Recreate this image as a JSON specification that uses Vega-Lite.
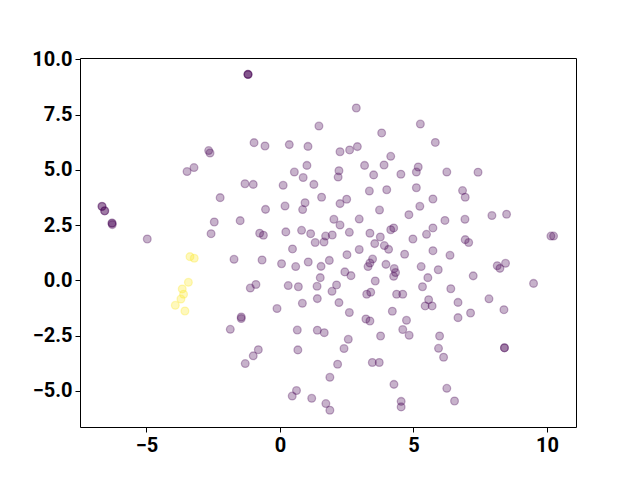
{
  "$schema": "https://vega.github.io/schema/vega-lite/v6.json",
  "width": 496,
  "height": 369,
  "autosize": {"type": "none"},
  "padding": {"left": 80, "top": 58, "right": 64, "bottom": 53},
  "background": "white",
  "config": {
    "view": {"stroke": "#000000", "strokeWidth": 1},
    "axis": {
      "grid": false,
      "domain": false,
      "ticks": true,
      "tickColor": "#000000",
      "tickSize": 5,
      "tickWidth": 1,
      "labelFont": "Roboto",
      "labelFontWeight": "bold",
      "labelFontSize": 20,
      "labelColor": "#000000",
      "labelPadding": 3,
      "title": null
    }
  },
  "data": {
    "values": [
      {"x": -1.2, "y": 9.32, "g": 0}, {"x": -1.2, "y": 9.32, "g": 0}, {"x": -1.19, "y": 9.31, "g": 0},
      {"x": -2.67, "y": 5.87, "g": 0}, {"x": -2.62, "y": 5.76, "g": 0},
      {"x": -3.48, "y": 4.92, "g": 0}, {"x": -3.22, "y": 5.1, "g": 0},
      {"x": -1.31, "y": 4.37, "g": 0}, {"x": -0.97, "y": 6.23, "g": 0}, {"x": -0.56, "y": 6.08, "g": 0},
      {"x": 2.86, "y": 7.8, "g": 0}, {"x": 1.46, "y": 6.98, "g": 0}, {"x": 0.35, "y": 6.14, "g": 0},
      {"x": 1.05, "y": 6.06, "g": 0}, {"x": 3.81, "y": 6.67, "g": 0}, {"x": 2.25, "y": 5.82, "g": 0},
      {"x": 2.61, "y": 5.9, "g": 0}, {"x": 2.9, "y": 6.05, "g": 0}, {"x": 4.15, "y": 5.61, "g": 0},
      {"x": 1.01, "y": 5.2, "g": 0}, {"x": 0.54, "y": 4.9, "g": 0}, {"x": 0.87, "y": 4.65, "g": 0},
      {"x": 2.21, "y": 4.96, "g": 0}, {"x": 2.18, "y": 4.67, "g": 0}, {"x": 3.17, "y": 5.2, "g": 0},
      {"x": 3.9, "y": 5.22, "g": 0}, {"x": 3.51, "y": 4.77, "g": 0}, {"x": 4.53, "y": 4.8, "g": 0},
      {"x": -1.0, "y": 4.34, "g": 0}, {"x": 0.12, "y": 4.3, "g": 0}, {"x": 1.27, "y": 4.34, "g": 0},
      {"x": 5.26, "y": 7.07, "g": 0}, {"x": 5.82, "y": 6.24, "g": 0}, {"x": 5.18, "y": 5.13, "g": 0},
      {"x": 5.11, "y": 4.9, "g": 0}, {"x": 6.25, "y": 4.9, "g": 0}, {"x": 7.42, "y": 4.89, "g": 0},
      {"x": -6.67, "y": 3.35, "g": 0}, {"x": -6.66, "y": 3.34, "g": 0},
      {"x": -6.57, "y": 3.14, "g": 0}, {"x": -6.56, "y": 3.15, "g": 0},
      {"x": -6.29, "y": 2.59, "g": 0}, {"x": -6.29, "y": 2.58, "g": 0}, {"x": -6.28, "y": 2.52, "g": 0},
      {"x": -4.97, "y": 1.87, "g": 0}, {"x": -2.24, "y": 3.74, "g": 0}, {"x": -2.46, "y": 2.64, "g": 0},
      {"x": -1.49, "y": 2.7, "g": 0}, {"x": -2.58, "y": 2.11, "g": 0}, {"x": -1.72, "y": 0.95, "g": 0},
      {"x": -1.45, "y": -1.66, "g": 0}, {"x": -1.45, "y": -1.73, "g": 0},
      {"x": -1.86, "y": -2.22, "g": 0}, {"x": -1.3, "y": -3.77, "g": 0}, {"x": -0.11, "y": -1.28, "g": 0},
      {"x": 0.84, "y": -1.04, "g": 0}, {"x": 2.21, "y": -1.01, "g": 0}, {"x": 2.6, "y": -1.46, "g": 0},
      {"x": 3.22, "y": -1.75, "g": 0}, {"x": 3.37, "y": -1.84, "g": 0}, {"x": 4.21, "y": -1.4, "g": 0},
      {"x": 4.74, "y": -1.81, "g": 0}, {"x": 4.6, "y": -2.23, "g": 0}, {"x": 4.84, "y": -2.49, "g": 0},
      {"x": 3.77, "y": -2.52, "g": 0}, {"x": 0.65, "y": -2.25, "g": 0}, {"x": 1.4, "y": -2.26, "g": 0},
      {"x": 1.66, "y": -2.37, "g": 0}, {"x": 2.56, "y": -2.67, "g": 0}, {"x": 2.4, "y": -3.09, "g": 0},
      {"x": 0.67, "y": -3.15, "g": 0}, {"x": -0.81, "y": -3.14, "g": 0}, {"x": -1.0, "y": -3.42, "g": 0},
      {"x": 2.16, "y": -3.8, "g": 0}, {"x": 1.87, "y": -4.39, "g": 0}, {"x": 3.46, "y": -3.72, "g": 0},
      {"x": 3.72, "y": -3.72, "g": 0}, {"x": 4.27, "y": -4.71, "g": 0}, {"x": 0.62, "y": -4.99, "g": 0},
      {"x": 0.46, "y": -5.24, "g": 0}, {"x": 1.19, "y": -5.34, "g": 0}, {"x": 1.72, "y": -5.58, "g": 0},
      {"x": 1.87, "y": -5.88, "g": 0}, {"x": 4.54, "y": -5.48, "g": 0}, {"x": 4.54, "y": -5.73, "g": 0},
      {"x": 5.57, "y": -0.88, "g": 0}, {"x": 5.44, "y": -1.16, "g": 0}, {"x": 5.7, "y": -1.16, "g": 0},
      {"x": 6.67, "y": -1.0, "g": 0}, {"x": 7.83, "y": -0.84, "g": 0}, {"x": 8.39, "y": -1.33, "g": 0},
      {"x": 7.14, "y": -1.48, "g": 0}, {"x": 6.67, "y": -1.69, "g": 0}, {"x": 5.98, "y": -2.52, "g": 0},
      {"x": 5.94, "y": -3.08, "g": 0}, {"x": 6.13, "y": -3.48, "g": 0},
      {"x": 8.41, "y": -3.06, "g": 0}, {"x": 8.41, "y": -3.05, "g": 0},
      {"x": 6.25, "y": -4.89, "g": 0}, {"x": 6.54, "y": -5.46, "g": 0},
      {"x": 5.11, "y": 4.19, "g": 0}, {"x": 6.84, "y": 4.06, "g": 0}, {"x": 6.94, "y": 3.76, "g": 0},
      {"x": 5.73, "y": 3.68, "g": 0}, {"x": 5.24, "y": 3.35, "g": 0}, {"x": 4.83, "y": 2.97, "g": 0},
      {"x": 6.18, "y": 2.71, "g": 0}, {"x": 6.93, "y": 2.76, "g": 0}, {"x": 7.94, "y": 2.93, "g": 0},
      {"x": 8.49, "y": 2.99, "g": 0}, {"x": 10.15, "y": 2.0, "g": 0}, {"x": 10.25, "y": 2.0, "g": 0},
      {"x": 5.73, "y": 2.37, "g": 0}, {"x": 5.49, "y": 2.08, "g": 0}, {"x": 4.98, "y": 1.87, "g": 0},
      {"x": 6.94, "y": 1.84, "g": 0}, {"x": 7.07, "y": 1.71, "g": 0}, {"x": 4.67, "y": 1.18, "g": 0},
      {"x": 5.73, "y": 1.34, "g": 0}, {"x": 6.37, "y": 1.13, "g": 0}, {"x": 5.29, "y": 0.62, "g": 0},
      {"x": 5.93, "y": 0.48, "g": 0}, {"x": 5.54, "y": 0.12, "g": 0}, {"x": 7.24, "y": 0.2, "g": 0},
      {"x": 8.14, "y": 0.66, "g": 0}, {"x": 8.24, "y": 0.54, "g": 0}, {"x": 8.45, "y": 0.77, "g": 0},
      {"x": 9.5, "y": -0.14, "g": 0}, {"x": 5.34, "y": -0.29, "g": 0}, {"x": 6.4, "y": -0.38, "g": 0},
      {"x": 4.6, "y": -0.63, "g": 0}, {"x": 3.35, "y": 4.04, "g": 0}, {"x": 4.0, "y": 4.1, "g": 0},
      {"x": 1.56, "y": 3.76, "g": 0}, {"x": 0.94, "y": 3.51, "g": 0}, {"x": 0.85, "y": 3.2, "g": 0},
      {"x": 0.19, "y": 3.36, "g": 0}, {"x": -0.54, "y": 3.21, "g": 0}, {"x": 2.25, "y": 3.47, "g": 0},
      {"x": 2.5, "y": 3.67, "g": 0}, {"x": 3.73, "y": 3.18, "g": 0}, {"x": 2.02, "y": 2.76, "g": 0},
      {"x": 2.25, "y": 2.5, "g": 0}, {"x": 2.97, "y": 2.77, "g": 0}, {"x": -0.76, "y": 2.13, "g": 0},
      {"x": -0.62, "y": 2.04, "g": 0}, {"x": 0.22, "y": 2.19, "g": 0}, {"x": 0.81, "y": 2.26, "g": 0},
      {"x": 1.15, "y": 2.11, "g": 0}, {"x": 1.71, "y": 2.0, "g": 0}, {"x": 1.96, "y": 2.05, "g": 0},
      {"x": 1.65, "y": 1.73, "g": 0}, {"x": 1.32, "y": 1.71, "g": 0}, {"x": 2.6, "y": 2.17, "g": 0},
      {"x": 3.37, "y": 2.13, "g": 0}, {"x": 3.76, "y": 1.96, "g": 0}, {"x": 4.15, "y": 2.29, "g": 0},
      {"x": 4.26, "y": 2.37, "g": 0}, {"x": 3.55, "y": 1.66, "g": 0}, {"x": 3.91, "y": 1.57, "g": 0},
      {"x": 4.07, "y": 1.4, "g": 0}, {"x": 0.47, "y": 1.42, "g": 0}, {"x": 2.97, "y": 1.39, "g": 0},
      {"x": 2.51, "y": 1.16, "g": 0}, {"x": -0.67, "y": 0.92, "g": 0}, {"x": 0.06, "y": 0.75, "g": 0},
      {"x": 0.59, "y": 0.62, "g": 0}, {"x": 1.06, "y": 0.83, "g": 0}, {"x": 1.54, "y": 0.63, "g": 0},
      {"x": 1.85, "y": 0.9, "g": 0}, {"x": 3.47, "y": 0.96, "g": 0}, {"x": 3.37, "y": 0.78, "g": 0},
      {"x": 3.3, "y": 0.62, "g": 0}, {"x": 3.97, "y": 0.72, "g": 0}, {"x": 4.28, "y": 0.53, "g": 0},
      {"x": 4.33, "y": 0.35, "g": 0}, {"x": 4.26, "y": 0.18, "g": 0}, {"x": 2.43, "y": 0.38, "g": 0},
      {"x": 2.66, "y": 0.21, "g": 0}, {"x": 1.51, "y": 0.12, "g": 0}, {"x": 3.57, "y": -0.03, "g": 0},
      {"x": -1.11, "y": -0.35, "g": 0}, {"x": -0.9, "y": -0.19, "g": 0}, {"x": 0.31, "y": -0.24, "g": 0},
      {"x": 0.69, "y": -0.29, "g": 0}, {"x": 1.39, "y": -0.27, "g": 0}, {"x": 2.12, "y": -0.21, "g": 0},
      {"x": 1.95, "y": -0.5, "g": 0}, {"x": 3.4, "y": -0.54, "g": 0}, {"x": 3.25, "y": -0.63, "g": 0},
      {"x": 4.37, "y": -0.63, "g": 0}, {"x": 1.4, "y": -0.83, "g": 0},
      {"x": -3.37, "y": 1.07, "g": 1}, {"x": -3.21, "y": 1.0, "g": 1}, {"x": -3.43, "y": -0.09, "g": 1},
      {"x": -3.66, "y": -0.39, "g": 1}, {"x": -3.61, "y": -0.63, "g": 1}, {"x": -3.71, "y": -0.85, "g": 1},
      {"x": -3.92, "y": -1.13, "g": 1}, {"x": -3.56, "y": -1.39, "g": 1}
    ]
  },
  "mark": {
    "type": "point",
    "shape": "circle",
    "filled": true,
    "size": 60,
    "strokeWidth": 1.3,
    "fillOpacity": 0.3,
    "strokeOpacity": 0.3
  },
  "encoding": {
    "x": {
      "field": "x",
      "type": "quantitative",
      "scale": {"domain": [-7.49, 11.09], "nice": false, "zero": false},
      "axis": {"values": [-5, 0, 5, 10], "format": "d"}
    },
    "y": {
      "field": "y",
      "type": "quantitative",
      "scale": {"domain": [-6.64, 10.06], "nice": false, "zero": false},
      "axis": {"values": [-5, -2.5, 0, 2.5, 5, 7.5, 10], "format": ".1f"}
    },
    "color": {
      "field": "g",
      "type": "nominal",
      "scale": {"domain": [0, 1], "range": ["#440154", "#fde725"]},
      "legend": null
    },
    "stroke": {
      "field": "g",
      "type": "nominal",
      "scale": {"domain": [0, 1], "range": ["#440154", "#fde725"]},
      "legend": null
    }
  }
}
